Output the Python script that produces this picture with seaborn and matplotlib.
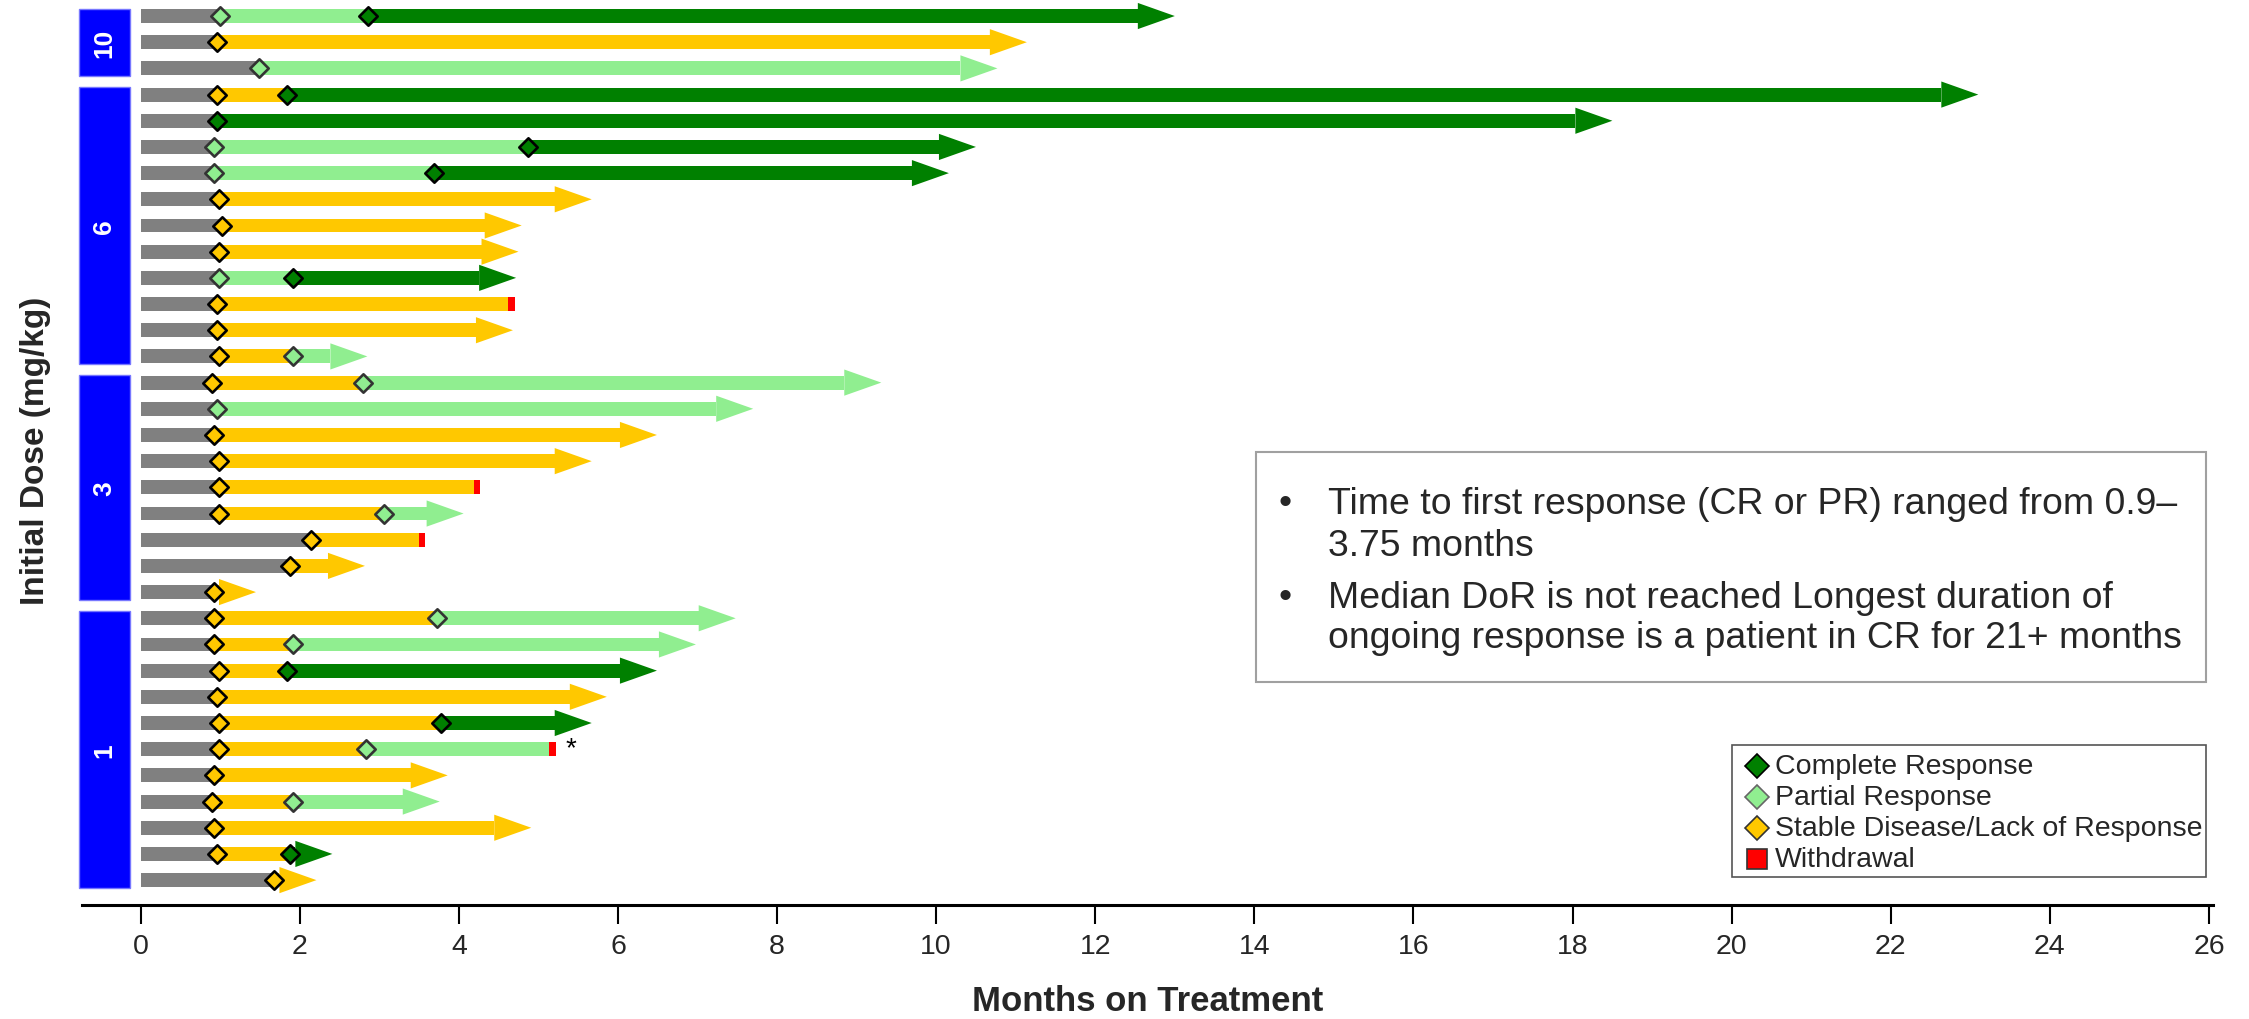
import matplotlib
matplotlib.use('Agg')
import matplotlib.pyplot as plt
import seaborn as sns
import pandas as pd
from matplotlib import font_manager
from matplotlib.patches import Polygon, Rectangle
from matplotlib.lines import Line2D

# ---------------- data ----------------
dose_groups = ['10', '6', '3', '1']
group_sizes = [3, 11, 9, 11]

first_time = [1.00, 0.96, 1.49, 0.96, 0.96, 0.92, 0.92, 0.99, 1.02, 0.99, 0.99, 0.96, 0.96, 0.99,
              0.90, 0.96, 0.92, 0.99, 0.99, 0.99, 2.14, 1.88, 0.92,
              0.92, 0.92, 0.99, 0.96, 0.99, 0.99, 0.92, 0.90, 0.92, 0.96, 1.68]
first_resp = ['PR', 'SD', 'PR', 'SD', 'CR', 'PR', 'PR', 'SD', 'SD', 'SD', 'PR', 'SD', 'SD', 'SD',
              'SD', 'PR', 'SD', 'SD', 'SD', 'SD', 'SD', 'SD', 'SD',
              'SD', 'SD', 'SD', 'SD', 'SD', 'SD', 'SD', 'SD', 'SD', 'SD', 'SD']
second_time = [2.86, None, None, 1.84, None, 4.87, 3.69, None, None, None, 1.91, None, None, 1.91,
               2.80, None, None, None, None, 3.06, None, None, None,
               3.72, 1.91, 1.84, None, 3.78, 2.83, None, 1.91, None, 1.88, None]
second_resp = ['CR', None, None, 'CR', None, 'CR', 'CR', None, None, None, 'CR', None, None, 'PR',
               'PR', None, None, None, None, 'PR', None, None, None,
               'PR', 'PR', 'CR', None, 'CR', 'PR', None, 'PR', None, 'CR', None]
end_time = [13.0, 11.14, 10.77, 23.1, 18.5, 10.5, 10.16, 5.67, 4.79, 4.75, 4.72, 4.70, 4.68, 2.85,
            9.31, 7.70, 6.49, 5.67, 4.27, 4.06, 3.58, 2.82, 1.45,
            7.48, 6.98, 6.49, 5.86, 5.67, 5.22, 3.86, 3.76, 4.91, 2.41, 2.21]
end_type = ['ongoing'] * 34
for k in (11, 18, 20, 28):
    end_type[k] = 'withdrawal'
star_rows = [28]

x_ticks = list(range(0, 27, 2))
legend_labels = ['Complete Response', 'Partial Response',
                 'Stable Disease/Lack of Response', 'Withdrawal']
note_lines = [['Time to first response (CR or PR) ranged from 0.9\u2013', '3.75 months'],
              ['Median DoR is not reached Longest duration of',
               'ongoing response is a patient in CR for 21+ months']]

# ---------------- style ----------------
FACE = {'CR': '#008000', 'PR': '#90EE90', 'SD': '#FFC800'}
EDGE = {'CR': '#000000', 'PR': '#333333', 'SD': '#000000'}
GRAY = '#808080'
RED = '#FF0000'
BLUE = '#0000FF'

sns.set_theme(style='white')
names = {f.name for f in font_manager.fontManager.ttflist}
HAS_NARROW = 'Liberation Sans Narrow' in names
REG = 'Liberation Sans'
NAR = 'Liberation Sans Narrow' if HAS_NARROW else 'Liberation Sans'
plt.rcParams['font.family'] = [REG, 'DejaVu Sans']
note_fs = 31.5 if HAS_NARROW else 26.9
tick_fs = 24 if HAS_NARROW else 20.5

W, H = 2249, 1020
fig = plt.figure(figsize=(W / 100, H / 100), dpi=100)
ax = fig.add_axes([82 / W, 114 / H, 2131 / W, 906 / H])

n = len(first_time)
rows = list(range(n))
BAR_H = 0.53
HH = 0.5
HEAD = 0.465
WD = 0.085

# gray pre-assessment bars
df_gray = pd.DataFrame({'row': rows, 't': first_time})
sns.barplot(data=df_gray, x='t', y='row', orient='h', color=GRAY, width=BAR_H,
            saturation=1, errorbar=None, linewidth=0, ax=ax)

# response segments and arrow heads
for i in range(n):
    stop = end_time[i] - (HEAD if end_type[i] == 'ongoing' else WD)
    pts = [first_time[i]]
    cols = [first_resp[i]]
    if second_time[i] is not None:
        pts.append(second_time[i])
        cols.append(second_resp[i])
    pts.append(stop)
    for a, b, c in zip(pts[:-1], pts[1:], cols):
        ax.barh(i, b - a, left=a, height=BAR_H, color=FACE[c], linewidth=0, zorder=2)
    if end_type[i] == 'ongoing':
        ax.add_patch(Polygon([[stop, i - HH], [end_time[i], i], [stop, i + HH]],
                             closed=True, facecolor=FACE[cols[-1]], edgecolor='none', zorder=2))
    else:
        ax.barh(i, WD, left=stop, height=BAR_H, color=RED, linewidth=0, zorder=2)

for r in star_rows:
    ax.text(end_time[r] + 0.12, r - 0.05, '*', fontsize=20, ha='left', va='center',
            family=REG, color='black')

# diamonds
mk = []
for i in range(n):
    mk.append((first_time[i], i, first_resp[i]))
    if second_time[i] is not None:
        mk.append((second_time[i], i, second_resp[i]))
df_mk = pd.DataFrame(mk, columns=['t', 'row', 'resp'])
for r in ['SD', 'PR', 'CR']:
    sub = df_mk[df_mk['resp'] == r]
    sns.scatterplot(data=sub, x='t', y='row', color=FACE[r], edgecolor=EDGE[r], marker='D',
                    s=88, linewidth=1.9, zorder=5, ax=ax, legend=False)

# dose group boxes
start = 0
for g, size in zip(dose_groups, group_sizes):
    top = start - 0.28
    bot = start + size - 1 + 0.3
    ax.add_patch(Rectangle((-0.78, top), 0.65, bot - top, facecolor=BLUE,
                           edgecolor='#7777ff', linewidth=1, clip_on=False, zorder=3))
    ax.text(-0.455, (top + bot) / 2, g, color='white', fontsize=19, fontweight='bold',
            rotation=90, ha='center', va='center', family=REG)
    start += size

# axes formatting
ax.set_xlim(-0.737, 26.05)
ax.set_ylim(n - 1 + 0.95, -0.65)
ax.set_yticks([])
ax.set_xticks(x_ticks)
ax.set_xticklabels([str(t) for t in x_ticks], fontsize=tick_fs, family=NAR)
for s in ['top', 'right', 'left']:
    ax.spines[s].set_visible(False)
ax.spines['bottom'].set_linewidth(2.2)
ax.spines['bottom'].set_color('black')
ax.tick_params(axis='x', direction='out', length=13.5, width=1.5, color='black', pad=7,
               bottom=True)
ax.set_xlabel('Months on Treatment', fontsize=25, fontweight='bold', family=REG)
ax.xaxis.set_label_coords(0.5, (906 - 1002) / 906)
ax.xaxis.label.set_va('center')
ax.set_ylabel('Initial Dose (mg/kg)', fontsize=24, fontweight='bold', family=REG)
ax.yaxis.set_label_coords((36 - 82) / 2131, 1 - 451 / 906)
ax.yaxis.label.set_va('center')


def fx(px):
    return px / W


def fy(py):
    return 1 - py / H


# note box
fig.patches.append(Rectangle((fx(1256), fy(683)), fx(2206) - fx(1256), fy(453) - fy(683),
                             transform=fig.transFigure, facecolor='white',
                             edgecolor='#A0A0A0', linewidth=1.5, zorder=10))
line_y = [[504, 546], [598, 638]]
for para, ys in zip(note_lines, line_y):
    fig.text(fx(1279), fy(ys[0]), '\u2022', fontsize=note_fs, ha='left', va='center',
             family=REG, zorder=11)
    for txt, yy in zip(para, ys):
        fig.text(fx(1328), fy(yy), txt, fontsize=note_fs, ha='left', va='center',
                 family=NAR, zorder=11)

# legend box
fig.patches.append(Rectangle((fx(1732), fy(878)), fx(2206) - fx(1732), fy(746) - fy(878),
                             transform=fig.transFigure, facecolor='white',
                             edgecolor='#555555', linewidth=1.2, zorder=10))
leg_y = [767, 798, 829, 860]
leg_marker = ['D', 'D', 'D', 's']
leg_face = [FACE['CR'], FACE['PR'], FACE['SD'], RED]
leg_edge = ['#000000', '#666666', '#333333', '#333333']
for lab, yy, m, fc, ec in zip(legend_labels, leg_y, leg_marker, leg_face, leg_edge):
    fig.lines.append(Line2D([fx(1757)], [fy(yy)], transform=fig.transFigure, marker=m,
                            markersize=12 if m == 'D' else 14, markerfacecolor=fc,
                            markeredgecolor=ec, markeredgewidth=1.2, linestyle='none',
                            zorder=11))
    fig.text(fx(1775), fy(yy), lab, fontsize=20.5, ha='left', va='center', family=REG, zorder=11)

fig.savefig('out.png', dpi=100)
